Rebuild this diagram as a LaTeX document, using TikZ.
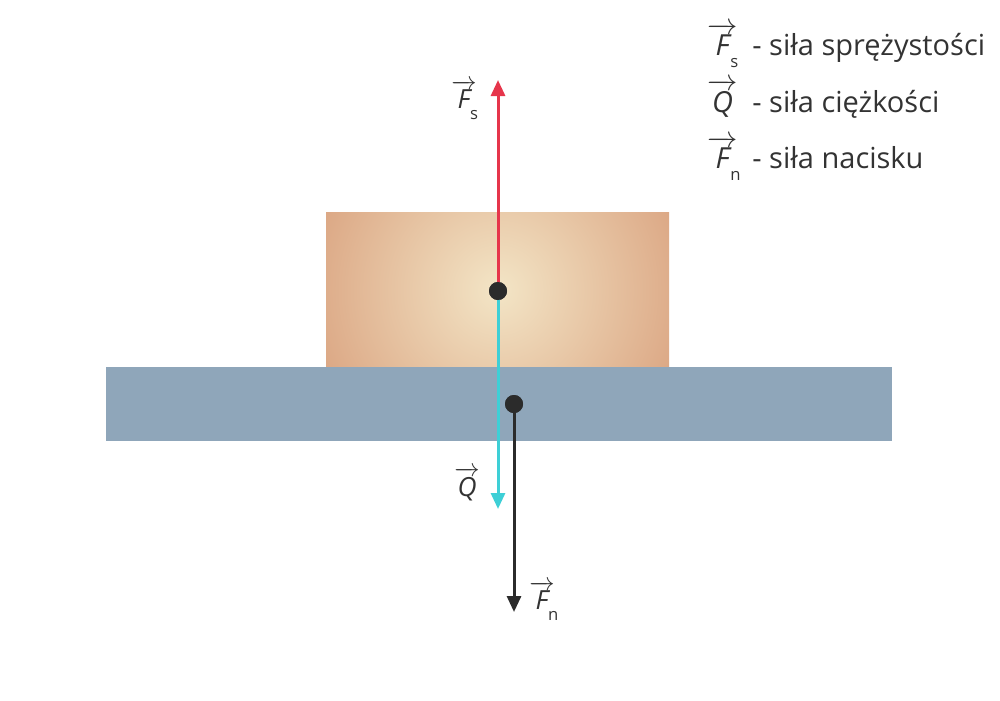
\documentclass[tikz,border=0pt]{standalone}
\usepackage{amsmath}
\usepackage{fontspec}
\setmainfont{Open Sans}
\usetikzlibrary{arrows.meta, positioning}

\definecolor{blockin}{HTML}{F3E5C6}
\definecolor{blockout}{HTML}{DAA380}
\definecolor{tablegray}{HTML}{8FA6BA}
\definecolor{forcered}{HTML}{E6354B}
\definecolor{forcecyan}{HTML}{3ECFD6}
\definecolor{dotgray}{HTML}{2B2B2B}
\definecolor{textgray}{HTML}{333333}

\newcommand{\forcevec}[2]{$\overrightarrow{\text{\itshape #1}}$\kern-0.25em\raisebox{-0.8ex}{\fontsize{9.5}{11}\selectfont #2}}

\begin{document}
\begin{tikzpicture}[
    x=0.02cm, y=-0.02cm,
    font=\fontsize{16.5}{20}\selectfont, text=textgray,
    force/.style={line width=1.7pt, -{Triangle[length=0.32cm, width=0.28cm]}},
    point/.style={circle, fill=dotgray, inner sep=0pt, minimum size=0.36cm},
    forcelabel/.style={anchor=base west, inner sep=0pt, font=\fontsize{15}{18}\selectfont},
    legsym/.style={anchor=base west, inner sep=0pt},
    legtext/.style={anchor=base west, inner sep=0pt}
]
\useasboundingbox (0,0) rectangle (1000,700);

% Block and table
\begin{scope}
\clip (326,212) rectangle (669,367);
\shade[inner color=blockin, outer color=blockout] (498,290) circle [radius=4.1cm];
\end{scope}
\fill[tablegray] (106,367) rectangle (892,441);

% Points of application
\node[point] (center) at (498,291) {};
\node[point] (contact) at (514,404) {};
\coordinate (fsend) at (498,80);
\coordinate (qend) at (498,509);
\coordinate (fnend) at (514,612);

% Forces
\draw[force, forcered] (center.center) -- (fsend);
\draw[force, forcecyan] (center.center) -- (qend);
\draw[force, dotgray] (contact.center) -- (fnend);
\node[point] at (center) {};
\node[point] at (contact) {};

% Force labels
\node[forcelabel] (fslabel) at (451,108) {\forcevec{F}{s}};
\node[forcelabel] (qlabel) at (454,496) {\forcevec{Q}{}};
\node[forcelabel] (fnlabel) at (529,609) {\forcevec{F}{n}};

% Legend
\node[legsym] (legfs) at (707,55) {\forcevec{F}{s}};
\node[legtext] at (752,55) {- siła sprężystości};
\node[legsym] (legq) at (707,112) {\forcevec{Q}{}};
\node[legtext] at (752,112) {- siła ciężkości};
\node[legsym] (legfn) at (707,168) {\forcevec{F}{n}};
\node[legtext] at (752,168) {- siła nacisku};

\end{tikzpicture}
\end{document}
